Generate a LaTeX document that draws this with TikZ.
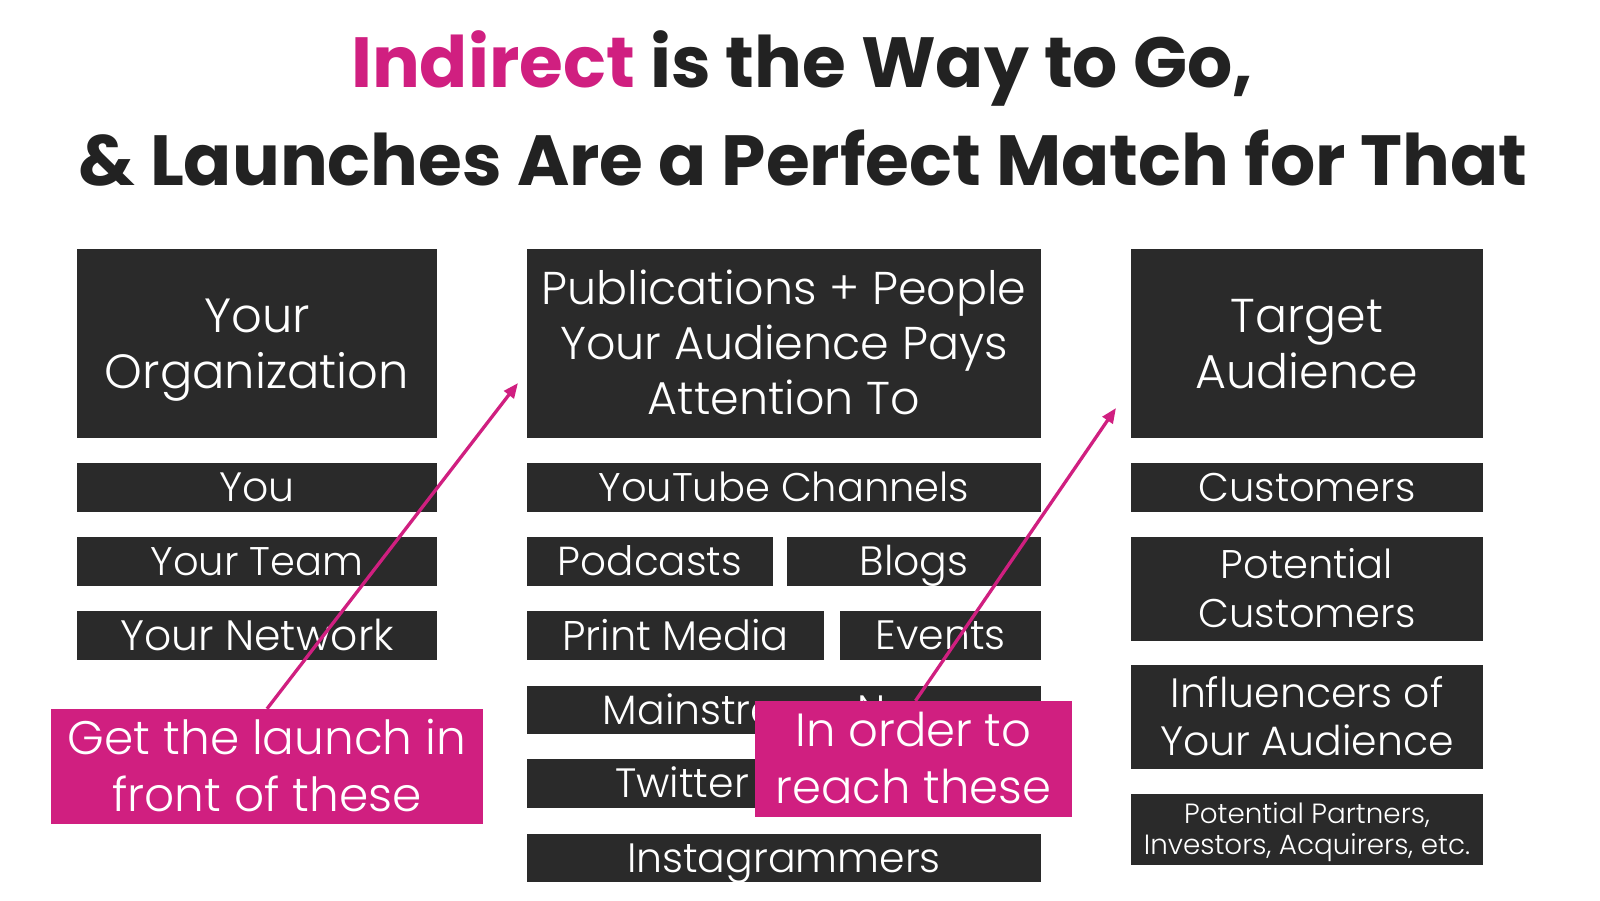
\documentclass[tikz,border=0pt]{standalone}
\usepackage{fontspec}
\setmainfont{Poppins}
\IfFontExistsTF{Poppins Light}{\newfontfamily\lightf{Poppins Light}}{%
 \IfFontExistsTF{Poppins-Light}{\newfontfamily\lightf{Poppins-Light}}{\newfontfamily\lightf{Poppins}}}
\usetikzlibrary{arrows.meta}
\definecolor{boxc}{HTML}{2A2A2A}
\definecolor{pinkc}{HTML}{D01F80}
\definecolor{titlec}{HTML}{222222}
\newcommand\mkbox[6]{\node[#6,minimum width={(#4-#2)*1pt},minimum height={(#5-#3)*1pt}] (#1) at ({(#2+#4)/2},{(#3+#5)/2})}
\begin{document}
\begin{tikzpicture}[x=1pt,y=-1pt,
 dbox/.style={fill=boxc,text=white,inner sep=0pt,align=center},
 pbox/.style={fill=pinkc,text=white,inner sep=0pt,align=center},
 txt/.style n args={3}{font=\lightf\fontsize{#1}{#2}\selectfont,text height={0.7*#1pt+(#3-1)*#2pt},text depth={0pt}},
 ttl/.style={font=\bfseries\fontsize{71}{78}\selectfont,text=titlec,anchor=base,inner sep=0pt},
 arr/.style={draw=pinkc,line width=3.3pt,-{Triangle[length=15pt,width=12pt]}}
]
\useasboundingbox[fill=white] (0,0) rectangle (1600,900);
% title
\node[ttl] (t1) at (802,87) {\textcolor{pinkc}{Indirect} is the Way to Go,};
\node[ttl] (t2) at (803,185) {\& Launches Are a Perfect Match for That};
% left column
\mkbox{org}{77}{249}{437}{438}{dbox,txt={48}{56}{2}} {Your\\Organization};
\mkbox{you}{77}{463}{437}{512}{dbox,txt={41}{45}{1}} {You};
\mkbox{team}{77}{537}{437}{586}{dbox,txt={40}{45}{1}} {Your Team};
\mkbox{net}{77}{611}{437}{660}{dbox,txt={42.5}{45}{1}} {Your Network};
% middle column
\mkbox{pub}{527}{249}{1041}{438}{dbox,txt={46}{55}{3}} {Publications + People\\Your Audience Pays\\Attention To};
\mkbox{yt}{527}{463}{1041}{512}{dbox,txt={40}{45}{1}} {YouTube Channels};
\mkbox{pod}{527}{537}{773}{586}{dbox,txt={40.5}{45}{1}} {Podcasts};
\mkbox{blog}{787}{537}{1041}{586}{dbox,txt={41}{45}{1}} {Blogs};
\mkbox{print}{527}{611}{824}{660}{dbox,txt={41.5}{45}{1}} {Print Media};
\mkbox{event}{840}{611}{1041}{660}{dbox,txt={41}{45}{1}} {Events};
\mkbox{news}{527}{686}{1041}{734}{dbox,txt={41}{45}{1}} {Mainstream News};
\mkbox{tw}{527}{759}{1041}{808}{dbox} {};
\node[txt={41}{45}{1},text=white,inner sep=0pt,anchor=west] (twt) at (615,783.5) {Twitter};
\mkbox{insta}{527}{834}{1041}{882}{dbox,txt={41}{45}{1}} {Instagrammers};
% right column
\mkbox{aud}{1131}{249}{1483}{438}{dbox,txt={47.5}{56}{2}} {Target\\Audience};
\mkbox{cust}{1131}{463}{1483}{512}{dbox,txt={40}{45}{1}} {Customers};
\mkbox{pcust}{1131}{537}{1483}{641}{dbox,txt={40}{48.5}{2}} {Potential\\Customers};
\mkbox{infl}{1131}{665}{1483}{769}{dbox,txt={41}{48.5}{2}} {Influencers of\\Your Audience};
\mkbox{part}{1131}{794}{1483}{865}{dbox,txt={27.8}{31}{2}} {Potential Partners,\\Investors, Acquirers, etc.};
% pink callouts
\mkbox{pink1}{51}{709}{483}{824}{pbox,txt={47}{57}{2}} {Get the launch in\\front of these};
\mkbox{pink2}{755}{701}{1072}{817}{pbox,txt={46.5}{57}{2}} {In order to\\reach these};
% arrows
\coordinate (tip1) at (518,383);
\coordinate (tip2) at (1116,408);
\draw[arr] (pink1.north) -- (tip1);
\draw[arr] ([xshift=2pt]pink2.north) -- (tip2);
\end{tikzpicture}
\end{document}
